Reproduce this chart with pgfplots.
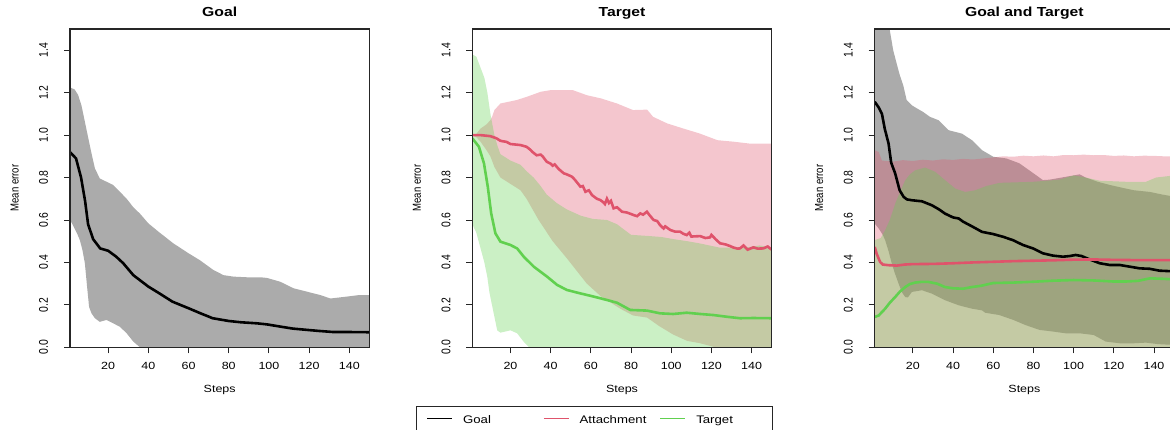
\documentclass[border=0pt]{standalone}
\usepackage{fontspec}
\setmainfont{Liberation Sans}
\newfontfamily\hf[FakeStretch=1.2]{Liberation Sans}
\newfontfamily\vf[FakeStretch=0.825]{Liberation Sans}
\usepackage{pgfplots}
\pgfplotsset{compat=1.18}
\usepgfplotslibrary{fillbetween}

\definecolor{attc}{HTML}{DF536B}
\definecolor{tarc}{HTML}{61D04F}

\pgfplotsset{
  errpanel/.style={
    scale only axis, width=299.4pt, height=318.3pt,
    xmin=1, xmax=150, ymin=0, ymax=1.5,
    xtick={20,40,60,80,100,120,140},
    ytick={0,0.2,0.4,0.6,0.8,1.0,1.2,1.4},
    tick align=outside, xtick pos=bottom, ytick pos=left,
    major tick length=6pt,
    tick style={black!85, line width=0.9pt},
    axis line style={black!85, line width=1.1pt},
    axis on top,
    /pgf/number format/assume math mode=true,
    xticklabel shift=16.5pt, yticklabel shift=16pt,
    xticklabel style={font=\hf\fontsize{10.4}{12}\selectfont, anchor=base},
    yticklabel style={font=\vf\fontsize{12.6}{14}\selectfont, rotate=90, anchor=base,
      /pgf/number format/.cd, fixed, fixed zerofill, precision=1},
    xlabel={Steps}, ylabel={Mean error},
    xlabel style={font=\hf\fontsize{10.4}{12}\selectfont, at={(0.5,-0.1414)}, anchor=base},
    ylabel style={font=\vf\fontsize{11.6}{13}\selectfont, at={(-0.172,0.5)}, anchor=base},
    title style={font=\hf\bfseries\fontsize{13.1}{15}\selectfont, at={(0.5,1.019)}, anchor=base},
  },
  band/.style={draw=none, forget plot},
  mean/.style={line width=2.6pt},
  % translucent spread band (one error bar per step)
  spread/.style={fill=#1, fill opacity=0.33, draw=none, forget plot},
}

\begin{document}
\begin{tikzpicture}
\coordinate (legpos) at (416pt,23pt);

% ---------- Goal ----------
\begin{axis}[errpanel, at={(70pt,81.7pt)}, anchor=south west, title={Goal}]
\addplot[band, name path=gU] coordinates {(1,1.225)(3.3,1.215)(5,1.19)(6.7,1.14)(8.4,1.063)(10,0.99)(11.7,0.914)(13.4,0.843)(15.8,0.796)(19.2,0.78)(22.5,0.765)(25.8,0.733)(29.2,0.70)(32.5,0.66)(35.8,0.63)(40,0.584)(45,0.545)(52.4,0.49)(60,0.443)(65.7,0.41)(72.4,0.364)(77.4,0.34)(82.4,0.333)(89,0.33)(95.7,0.33)(99,0.327)(105.6,0.309)(112.3,0.278)(119,0.262)(125.6,0.246)(130.6,0.23)(138.8,0.239)(144.7,0.246)(150,0.246)};
\addplot[band, name path=gL] coordinates {(1,0.60)(2.5,0.575)(4.5,0.537)(5.9,0.505)(7.2,0.458)(8.4,0.396)(9.5,0.286)(10.5,0.19)(11.7,0.16)(13.4,0.137)(15.8,0.12)(19.2,0.129)(22.5,0.113)(25.8,0.097)(29.2,0.066)(32.5,0.027)(35.8,0)(38,-0.02)(150,-0.05)};
\addplot[spread=black] fill between[of=gU and gL];
\addplot[black, mean, forget plot] coordinates {(1,0.92)(4,0.89)(6.5,0.80)(8.5,0.69)(10,0.58)(12.5,0.51)(16,0.466)(20,0.455)(24,0.427)(27.5,0.396)(32.5,0.34)(40,0.286)(45,0.257)(52,0.215)(60,0.184)(66,0.16)(72,0.137)(80,0.124)(86,0.118)(94,0.113)(99,0.108)(106,0.097)(112,0.088)(119,0.082)(125,0.077)(132,0.072)(140,0.072)(150,0.071)};
\end{axis}

% ---------- Target ----------
\begin{axis}[errpanel, at={(472.3pt,81.7pt)}, anchor=south west, title={Target},
  legend columns=3,
  legend image code/.code={\draw[#1, line width=1.6pt] (0pt,4.7pt) -- (25pt,4.7pt);},
  legend style={at={(legpos)}, anchor=north west, draw=black!85, line width=0.9pt,
    inner xsep=10pt, inner ysep=0pt, column sep=0pt,
    font=\hf\fontsize{11}{13}\selectfont,
    nodes={inner sep=0pt, text height=16.7pt, text depth=7.3pt, anchor=base}}]
\addlegendimage{black}
\addlegendentry{\hspace*{10pt}\makebox[80pt][l]{Goal}}
\addplot[band, name path=aU] coordinates {(1,1.0)(3,1.005)(5,1.03)(8,1.05)(10,1.07)(11,1.09)(12,1.118)(15,1.149)(23,1.165)(28,1.18)(35,1.204)(40,1.212)(51,1.212)(58,1.188)(65,1.173)(73,1.149)(81,1.118)(88,1.12)(91,1.086)(98,1.055)(106,1.031)(114,1.008)(123,0.976)(131,0.969)(139,0.96)(150,0.96)};
\addplot[band, name path=aL] coordinates {(1,1.0)(3,0.99)(5,0.97)(8,0.93)(10,0.90)(12,0.85)(15,0.80)(20,0.77)(25,0.74)(28,0.70)(31,0.65)(34,0.60)(41,0.50)(48,0.42)(53,0.36)(58,0.30)(65,0.24)(75,0.18)(81,0.15)(88,0.14)(94,0.10)(101,0.06)(108,0.03)(114,0.02)(122,0.0)(130,-0.02)(150,-0.03)};
\addplot[spread=attc] fill between[of=aU and aL];
\addplot[attc, mean] coordinates {(1,1.0)(5,1.0)(10,0.995)(13,0.985)(15,0.973)(18,0.968)(20,0.958)(23,0.955)(25,0.953)(28,0.945)(30,0.93)(31,0.92)(33,0.905)(35,0.908)(36,0.9)(38,0.875)(40,0.865)(41,0.856)(42,0.862)(44,0.84)(46.5,0.82)(48,0.815)(50.6,0.804)(52,0.79)(54.8,0.757)(56,0.76)(57.3,0.733)(59,0.74)(60.6,0.717)(63,0.70)(64.7,0.694)(66,0.685)(67,0.675)(68,0.70)(69,0.68)(70,0.69)(71.3,0.655)(73,0.66)(75.5,0.639)(78,0.635)(80,0.628)(81.3,0.623)(83,0.618)(84.6,0.631)(86,0.625)(87.9,0.639)(89,0.625)(91.2,0.6)(93,0.595)(94.5,0.575)(96.2,0.56)(97,0.57)(99.5,0.553)(102,0.545)(104.4,0.545)(106,0.535)(107.7,0.529)(109,0.54)(110,0.522)(114.4,0.524)(117,0.515)(119.3,0.518)(120,0.53)(122,0.51)(124.3,0.49)(127,0.485)(129.3,0.477)(131,0.47)(133,0.465)(134.2,0.466)(136,0.48)(138,0.46)(140.9,0.471)(143,0.465)(145.8,0.466)(148,0.475)(150,0.46)};
\addlegendentry{\hspace*{10pt}\makebox[80pt][l]{Attachment}}
\addplot[band, name path=tU] coordinates {(1,1.38)(3,1.37)(5,1.32)(7,1.27)(8.5,1.2)(10,1.1)(11,1.05)(12,1.0)(13.5,0.95)(15,0.91)(20,0.88)(25,0.86)(28,0.83)(31.5,0.8)(35,0.76)(38,0.72)(43,0.68)(48,0.65)(55,0.62)(61,0.605)(68,0.6)(73,0.58)(80,0.53)(88,0.525)(95,0.52)(101,0.51)(108,0.5)(114,0.49)(124,0.47)(137,0.47)(144,0.48)(150,0.47)};
\addplot[band, name path=tL] coordinates {(1,0.58)(3,0.54)(5,0.47)(7,0.40)(8.5,0.33)(9.5,0.26)(11,0.19)(13.4,0.08)(15,0.069)(20,0.08)(23.3,0.066)(26.6,0.026)(29,0.003)(30,-0.02)(150,-0.05)};
\addplot[spread=tarc] fill between[of=tU and tL];
\addplot[tarc, mean] coordinates {(1,0.985)(4.3,0.945)(6.8,0.867)(8.7,0.757)(10.4,0.631)(12.5,0.537)(15,0.498)(20,0.482)(23.3,0.466)(26.6,0.427)(31.6,0.38)(38.2,0.333)(43.2,0.294)(48.1,0.27)(54.8,0.254)(61.4,0.239)(68,0.223)(73,0.21)(79.6,0.176)(87.9,0.173)(94.5,0.16)(101,0.157)(107.7,0.163)(114.4,0.157)(121,0.152)(127.6,0.144)(134.2,0.137)(140.9,0.138)(150,0.137)};
\addlegendentry{\hspace*{10pt}\makebox[66pt][l]{Target}}
\end{axis}

% ---------- Goal and Target ----------
\begin{axis}[errpanel, at={(874.7pt,81.7pt)}, anchor=south west, title={Goal and Target}]
\addplot[band, name path=cgU] coordinates {(1,1.7)(7,1.6)(8.5,1.495)(10.2,1.40)(11.9,1.338)(13.5,1.282)(15.2,1.235)(16.9,1.165)(19.4,1.141)(21.8,1.127)(25.1,1.109)(28.5,1.086)(32.8,1.07)(37.8,1.023)(44.4,1.007)(49.4,0.976)(54.4,0.929)(60,0.898)(66.5,0.89)(73,0.867)(80,0.82)(84.7,0.788)(88,0.79)(94,0.80)(100,0.81)(103,0.815)(106,0.80)(112,0.78)(118,0.765)(125,0.75)(130,0.74)(138,0.732)(144,0.72)(150,0.71)};
\addplot[band, name path=cgL] coordinates {(1,0.583)(3,0.56)(5,0.53)(6.2,0.505)(8,0.45)(9.5,0.395)(11,0.35)(12.9,0.30)(14.5,0.26)(16.2,0.237)(17.5,0.235)(19.5,0.261)(24.5,0.269)(29.5,0.253)(36,0.222)(42.8,0.198)(49.4,0.182)(54.4,0.174)(56,0.163)(63,0.152)(70,0.129)(76,0.105)(83,0.082)(90,0.074)(96,0.066)(103,0.066)(110,0.058)(116,0.027)(123,0.019)(130,0.019)(136,0.022)(142,0.015)(150,0.011)};
\addplot[spread=black] fill between[of=cgU and cgL];
\addplot[black, mean, forget plot] coordinates {(1,1.157)(3,1.13)(4.6,1.10)(6,1.03)(7.9,0.96)(9.2,0.87)(11.2,0.819)(13.4,0.74)(15.4,0.709)(17,0.697)(19.5,0.693)(24.5,0.688)(29.5,0.669)(33,0.65)(36,0.63)(40,0.612)(42.8,0.607)(45,0.592)(49.4,0.57)(54.4,0.544)(59.8,0.534)(64.8,0.521)(69.8,0.505)(74.8,0.482)(79.8,0.466)(84.7,0.443)(89.7,0.432)(94.7,0.427)(98,0.43)(101,0.435)(104,0.43)(108,0.414)(113,0.396)(117.9,0.388)(122.9,0.388)(127.9,0.38)(132.9,0.372)(137.8,0.37)(142.8,0.361)(150,0.358)};
\addplot[band, name path=caU] coordinates {(1,0.929)(3,0.92)(4.6,0.88)(10,0.875)(15,0.882)(20,0.878)(25,0.884)(30,0.88)(35,0.886)(40,0.883)(45,0.888)(50,0.885)(55,0.89)(60,0.895)(65,0.9)(70,0.898)(75,0.903)(80,0.9)(85,0.904)(90,0.9)(95,0.906)(100,0.905)(105,0.908)(110,0.905)(115,0.906)(120,0.902)(125,0.904)(130,0.9)(135,0.903)(140,0.902)(145,0.9)(150,0.9)};
\addplot[band, name path=caL] coordinates {(1,-0.05)(150,-0.05)};
\addplot[spread=attc] fill between[of=caU and caL];
\addplot[attc, mean, forget plot] coordinates {(1,0.473)(2,0.44)(3.7,0.402)(5,0.39)(7.9,0.387)(12,0.385)(16,0.39)(20,0.392)(30,0.393)(40,0.396)(50,0.40)(60,0.403)(70,0.406)(80,0.408)(90,0.41)(100,0.413)(110,0.414)(120,0.412)(130,0.411)(140,0.411)(150,0.411)};
\addplot[band, name path=ctU] coordinates {(1,0.505)(4,0.515)(6.2,0.552)(8.5,0.6)(11.2,0.677)(13.5,0.73)(16.2,0.787)(18.5,0.815)(21.1,0.834)(26.1,0.847)(31.1,0.827)(36.1,0.787)(41.1,0.748)(46,0.732)(51,0.74)(56.5,0.76)(63.2,0.775)(80,0.78)(93,0.79)(100,0.81)(106,0.80)(113,0.785)(126,0.78)(136,0.78)(141,0.80)(150,0.81)};
\addplot[band, name path=ctL] coordinates {(1,-0.05)(150,-0.05)};
\addplot[spread=tarc] fill between[of=ctU and ctL];
\addplot[tarc, mean, forget plot] coordinates {(1,0.143)(3,0.15)(6.2,0.182)(8.5,0.21)(11.2,0.237)(13.5,0.262)(16.2,0.284)(18.5,0.298)(21.1,0.305)(24,0.308)(27.8,0.308)(32,0.30)(36,0.284)(40,0.278)(45,0.276)(49.4,0.284)(54,0.29)(60,0.303)(70,0.305)(80,0.309)(90,0.314)(100,0.317)(110,0.315)(120,0.31)(126,0.31)(132,0.313)(138,0.325)(144,0.323)(150,0.32)};
\end{axis}

% page frame: the third panel runs past the right edge and the legend past the bottom
\pgfresetboundingbox
\path[use as bounding box] (0pt,0pt) rectangle (1170pt,429pt);
\end{tikzpicture}
\end{document}
